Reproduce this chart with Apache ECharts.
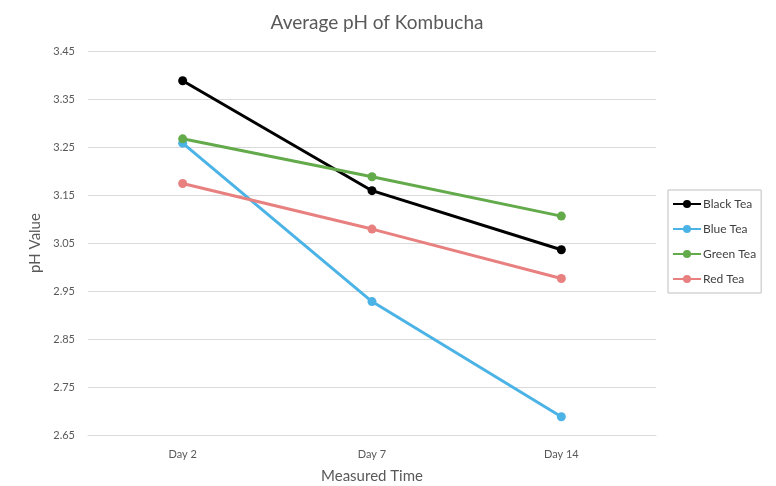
<!DOCTYPE html>
<html>
<head>
<meta charset="utf-8">
<script src="https://cdn.jsdelivr.net/npm/echarts@6/dist/echarts.min.js"></script>
<style>
  html, body { margin: 0; padding: 0; background: #fff; }
  #chart { width: 776px; height: 486px; }
</style>
</head>
<body>
<div id="chart"></div>
<script>
var days = ["Day 2", "Day 7", "Day 14"];
var blackTea = [3.388, 3.159, 3.036];
var blueTea = [3.258, 2.928, 2.688];
var greenTea = [3.267, 3.188, 3.106];
var redTea = [3.174, 3.079, 2.976];
var yTicks = ["2.65", "2.75", "2.85", "2.95", "3.05", "3.15", "3.25", "3.35", "3.45"];

var font = "Lato, 'Open Sans', sans-serif";
var chart = echarts.init(document.getElementById("chart"));

function line(name, data, color) {
  return {
    name: name,
    type: "line",
    data: data,
    symbol: "circle",
    symbolSize: 9,
    lineStyle: { width: 3, color: color },
    itemStyle: { color: color },
    animation: false
  };
}

chart.setOption({
  textStyle: { fontFamily: font },
  title: {
    text: "Average pH of Kombucha",
    left: 372,
    top: 8,
    textAlign: "center",
    textStyle: { fontSize: 19, fontWeight: "normal", color: "#595959", fontFamily: font }
  },
  legend: {
    orient: "vertical",
    left: 668,
    top: 190,
    itemWidth: 28,
    itemHeight: 10,
    itemGap: 13,
    padding: [8, 5, 8, 4],
    borderColor: "#bfbfbf",
    borderWidth: 1,
    textStyle: { fontSize: 12, color: "#404040", fontFamily: font, padding: [0, 0, 0, -3] },
    data: ["Black Tea", "Blue Tea", "Green Tea", "Red Tea"]
  },
  grid: { left: 88, right: 120, top: 51, bottom: 51, outerBoundsMode: "none" },
  xAxis: {
    type: "category",
    data: days,
    name: "Measured Time",
    nameLocation: "middle",
    nameGap: 34,
    nameTextStyle: { fontSize: 15, color: "#595959", fontFamily: font },
    axisLine: { lineStyle: { color: "#d9d9d9" } },
    axisTick: { lineStyle: { color: "#d9d9d9" }, length: 4 },
    axisLabel: { fontSize: 11, color: "#595959", margin: 14 }
  },
  yAxis: {
    type: "value",
    min: 2.65,
    max: 3.45,
    interval: 0.1,
    name: "pH Value",
    nameLocation: "middle",
    nameGap: 44,
    nameTextStyle: { fontSize: 15, color: "#595959", fontFamily: font },
    axisLine: { show: false },
    axisTick: { show: false },
    splitLine: { lineStyle: { color: "#d9d9d9" } },
    axisLabel: {
      fontSize: 11,
      color: "#595959",
      margin: 13,
      formatter: function (v) {
        var s = v.toFixed(2);
        return yTicks.indexOf(s) >= 0 ? s : "";
      }
    }
  },
  series: [
    line("Black Tea", blackTea, "#000000"),
    line("Blue Tea", blueTea, "#4cb3e6"),
    line("Green Tea", greenTea, "#63aa4b"),
    line("Red Tea", redTea, "#e88080")
  ]
});
</script>
</body>
</html>
